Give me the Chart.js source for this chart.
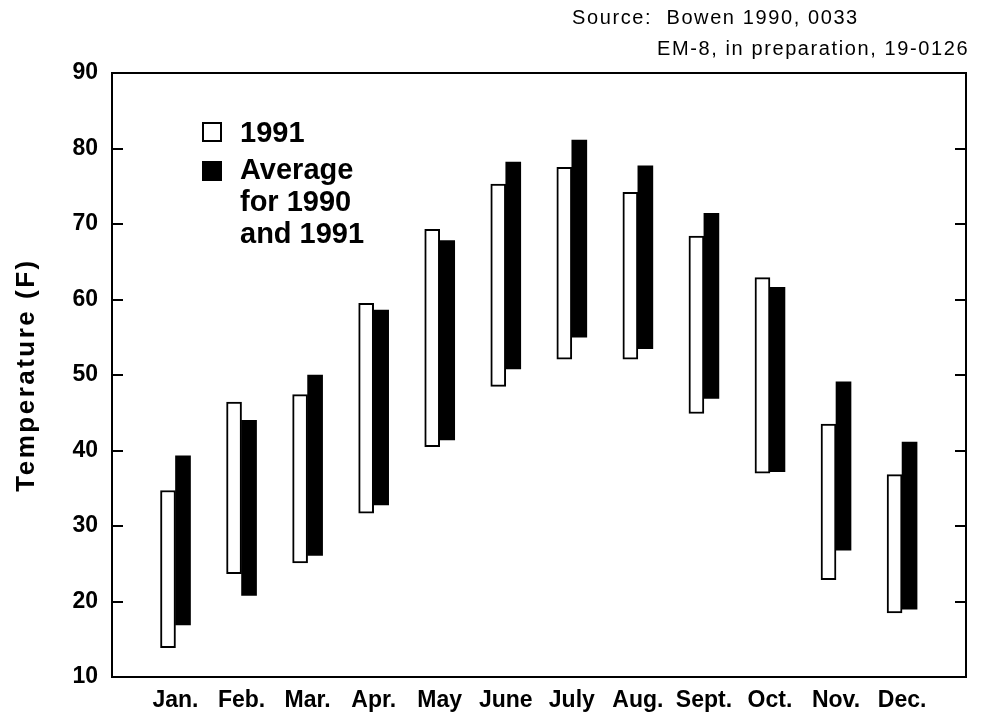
<!DOCTYPE html>
<html>
<head>
<meta charset="utf-8">
<script src="https://cdn.jsdelivr.net/npm/chart.js@4"></script>
<style>
  html, body { margin: 0; padding: 0; background: #fff; }
  #wrap { position: relative; width: 989px; height: 717px; font-family: "Liberation Sans", Arial, Helvetica, sans-serif; color: #000; }
  #c { position: absolute; left: 0; top: 0; }
  .src { position: absolute; font-size: 20px; letter-spacing: 1.6px; white-space: pre; line-height: 20px; }
  .leg { position: absolute; font-weight: bold; font-size: 29px; line-height: 32px; white-space: pre; }
  .sw { position: absolute; box-sizing: border-box; }
</style>
</head>
<body>
<div id="wrap">
  <canvas id="c" width="989" height="717"></canvas>
  <div class="src" style="left:572px; top:7px;">Source:  Bowen 1990, 0033</div>
  <div class="src" style="left:657px; top:38px;">EM-8, in preparation, 19-0126</div>
  <div class="sw" style="left:202px; top:122px; width:20px; height:20px; border:2px solid #000; background:#fff;"></div>
  <div class="sw" style="left:202px; top:161px; width:20px; height:20px; background:#000;"></div>
  <div class="leg" style="left:240px; top:116px;">1991</div>
  <div class="leg" style="left:240px; top:153px;">Average
for 1990
and 1991</div>
</div>
<script>
// ---- data ----
const months = ["Jan.", "Feb.", "Mar.", "Apr.", "May", "June", "July", "Aug.", "Sept.", "Oct.", "Nov.", "Dec."];
const low1991  = [13.9, 23.7, 25.1, 31.7, 40.5, 48.5, 52.1, 52.1, 44.9, 37.0, 22.9, 18.5];
const high1991 = [34.7, 46.4, 47.4, 59.5, 69.3, 75.3, 77.5, 74.2, 68.4, 62.9, 43.5, 36.8];
const lowAvg   = [16.9, 20.8, 26.1, 32.8, 41.4, 50.8, 55.0, 53.5, 46.9, 37.2, 26.8, 19.0];
const highAvg  = [39.3, 44.0, 50.0, 58.6, 67.8, 78.2, 81.1, 77.7, 71.4, 61.6, 49.1, 41.1];
const yTicks   = [10, 20, 30, 40, 50, 60, 70, 80, 90];
const yTitle = "Temperature (F)";

const FONT = '"Liberation Sans", Arial, Helvetica, sans-serif';

const framePlugin = {
  id: 'frame',
  afterDraw(chart) {
    const ctx = chart.ctx;
    const a = chart.chartArea;
    const ys = chart.scales.y;
    ctx.save();
    ctx.strokeStyle = '#000';
    ctx.lineWidth = 2;
    ctx.strokeRect(a.left, a.top, a.right - a.left, a.bottom - a.top);
    // inward ticks on both sides
    ctx.beginPath();
    yTicks.forEach(v => {
      const py = Math.round(ys.getPixelForValue(v));
      ctx.moveTo(a.left, py); ctx.lineTo(a.left + 11, py);
      ctx.moveTo(a.right, py); ctx.lineTo(a.right - 11, py);
    });
    ctx.stroke();
    // axis title
    ctx.translate(27, (a.top + a.bottom) / 2);
    ctx.rotate(-Math.PI / 2);
    ctx.fillStyle = '#000';
    ctx.font = 'bold 26px ' + FONT;
    try { ctx.letterSpacing = '2.5px'; } catch (e) {}
    ctx.textAlign = 'center';
    ctx.textBaseline = 'middle';
    ctx.fillText(yTitle, 0, 0);
    ctx.restore();
  }
};

new Chart(document.getElementById('c'), {
  type: 'bar',
  data: {
    datasets: [
      {
        label: '1991',
        data: months.map((m, i) => ({ x: i, y: [low1991[i], high1991[i]] })),
        backgroundColor: '#fff',
        borderColor: '#000',
        borderWidth: 2,
        borderSkipped: false,
        barThickness: 15
      },
      {
        label: 'Average for 1990 and 1991',
        data: months.map((m, i) => ({ x: i, y: [lowAvg[i], highAvg[i]] })),
        backgroundColor: '#000',
        borderWidth: 0,
        borderSkipped: false,
        barThickness: 15
      }
    ]
  },
  options: {
    responsive: false,
    devicePixelRatio: 1,
    animation: false,
    layout: { padding: { top: 73, right: 23, left: 0, bottom: 0 } },
    plugins: { legend: { display: false }, tooltip: { enabled: false } },
    scales: {
      x: {
        type: 'linear',
        offset: false,
        min: -0.9614,
        max: 11.968,
        grid: { display: false, drawTicks: false, offset: false },
        border: { display: false },
        afterBuildTicks: axis => { axis.ticks = months.map((m, i) => ({ value: i })); },
        afterFit: s => { s.height = 40; },
        ticks: {
          autoSkip: false,
          maxRotation: 0,
          padding: 10,
          color: '#000',
          font: { family: FONT, size: 23, weight: 'bold' },
          callback: v => months[v]
        }
      },
      y: {
        min: 10,
        max: 90,
        grid: { display: false, drawTicks: false },
        border: { display: false },
        afterBuildTicks: axis => { axis.ticks = yTicks.map(v => ({ value: v })); },
        afterFit: s => { s.width = 112; },
        ticks: {
          padding: 14,
          color: '#000',
          font: { family: FONT, size: 23, weight: 'bold' }
        }
      }
    }
  },
  plugins: [framePlugin]
});
</script>
</body>
</html>
